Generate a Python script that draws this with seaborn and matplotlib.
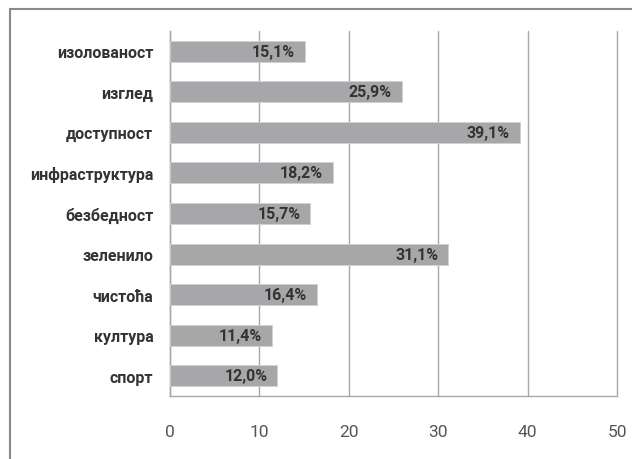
import matplotlib
matplotlib.use('Agg')
import matplotlib.pyplot as plt
import seaborn as sns
import pandas as pd
from matplotlib.lines import Line2D

categories = ['изолованост', 'изглед', 'доступност', 'инфраструктура', 'безбедност',
              'зеленило', 'чистоћа', 'култура', 'спорт']
values = [15.1, 25.9, 39.1, 18.2, 15.7, 31.1, 16.4, 11.4, 12.0]
x_ticks = [0, 10, 20, 30, 40, 50]

sns.set_style('white')
plt.rcParams['font.family'] = ['Roboto', 'DejaVu Sans']

df = pd.DataFrame({'category': categories, 'value': values})

fig = plt.figure(figsize=(6.32, 4.60), dpi=100)
ax = fig.add_axes([170 / 632, 1 - 397 / 460, 447 / 632, 365 / 460])

sns.barplot(data=df, x='value', y='category', orient='h', color='#a7a7a9',
            width=0.52, edgecolor='#d0d0d2', linewidth=0.6, ax=ax, zorder=3)

ax.set_xlim(0, 50)
ax.set_xticks(x_ticks)
ax.set_xticklabels([str(t) for t in x_ticks], fontsize=12.5, color='#555555')
ax.tick_params(axis='x', length=0, pad=20)
ax.tick_params(axis='y', length=0, pad=12)
for lab in ax.get_yticklabels():
    lab.set_fontsize(11.5)
    lab.set_fontweight('bold')
    lab.set_color('#333333')
ax.set_xlabel('')
ax.set_ylabel('')

ax.grid(axis='x', color='#a8a8a8', linewidth=1.0, zorder=0)
for line in ax.get_xgridlines():
    line.set_clip_on(False)
for side in ['top', 'right']:
    ax.spines[side].set_visible(False)
for side in ['left', 'bottom']:
    ax.spines[side].set_color('#a8a8a8')
    ax.spines[side].set_linewidth(1.0)

for i, v in enumerate(values):
    ax.annotate(f'{v:.1f}%'.replace('.', ','), xy=(v, i), xytext=(-7, 0),
                textcoords='offset points', ha='right', va='center',
                fontsize=11.5, fontweight='bold', color='#333333', zorder=4)

# outer chart border (top and left edges visible)
fig.add_artist(Line2D([10.5 / 632, 10.5 / 632], [0, 1 - 10 / 460],
                      transform=fig.transFigure, color='#8a8a8a', linewidth=1.5))
fig.add_artist(Line2D([10 / 632, 1], [1 - 10 / 460, 1 - 10 / 460],
                      transform=fig.transFigure, color='#8a8a8a', linewidth=1.5))

fig.savefig('out.png', dpi=100)
